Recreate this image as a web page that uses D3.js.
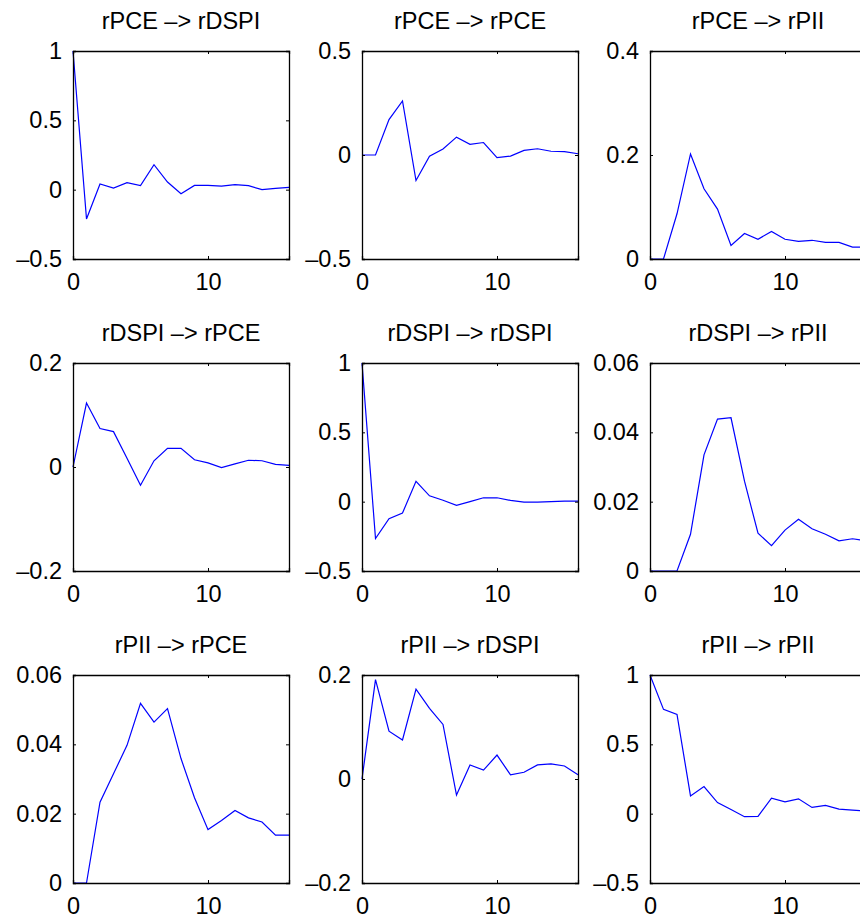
<!DOCTYPE html>
<html>
<head>
<meta charset="utf-8">
<script src="https://cdn.jsdelivr.net/npm/d3@7"></script>
<style>
  html, body { margin: 0; padding: 0; background: #fff; }
  svg { display: block; }
  text { font-family: "Liberation Sans", Arial, Helvetica, sans-serif; fill: #000; }
</style>
</head>
<body>
<svg id="chart" width="860" height="922"></svg>
<script>
// ---- Data ----
const horizons = d3.range(0, 17);
const xTicks = [0, 10];

const titles = [
  "rPCE –> rDSPI", "rPCE –> rPCE", "rPCE –> rPII",
  "rDSPI –> rPCE", "rDSPI –> rDSPI", "rDSPI –> rPII",
  "rPII –> rPCE", "rPII –> rDSPI", "rPII –> rPII"
];

const yDomains = [
  [-0.5, 1], [-0.5, 0.5], [0, 0.4],
  [-0.2, 0.2], [-0.5, 1], [0, 0.06],
  [0, 0.06], [-0.2, 0.2], [-0.5, 1]
];

const yTicks = [
  [-0.5, 0, 0.5, 1], [-0.5, 0, 0.5], [0, 0.2, 0.4],
  [-0.2, 0, 0.2], [-0.5, 0, 0.5, 1], [0, 0.02, 0.04, 0.06],
  [0, 0.02, 0.04, 0.06], [-0.2, 0, 0.2], [-0.5, 0, 0.5, 1]
];

const pceToDspi = [1.0, -0.211, 0.041, 0.012, 0.050, 0.029, 0.180, 0.055, -0.029, 0.031, 0.031, 0.026, 0.036, 0.029, 0.0, 0.010, 0.017];
const pceToPce  = [0, 0, 0.170, 0.260, -0.123, -0.006, 0.029, 0.086, 0.051, 0.060, -0.013, -0.005, 0.022, 0.030, 0.018, 0.016, 0.006];
const pceToPii  = [0, 0, 0.087, 0.202, 0.135, 0.096, 0.026, 0.049, 0.038, 0.053, 0.038, 0.034, 0.036, 0.032, 0.032, 0.023, 0.023];
const dspiToPce = [0, 0.123, 0.074, 0.068, 0.017, -0.035, 0.012, 0.036, 0.036, 0.014, 0.008, -0.001, 0.006, 0.013, 0.012, 0.005, 0.003];
const dspiToDspi= [1.0, -0.266, -0.123, -0.082, 0.147, 0.042, 0.010, -0.027, 0.0, 0.028, 0.028, 0.009, -0.003, -0.003, 0.0, 0.004, 0.004];
const dspiToPii = [0, 0, 0, 0.0106, 0.0335, 0.0438, 0.0442, 0.0259, 0.0109, 0.0073, 0.0118, 0.0149, 0.0122, 0.0106, 0.0087, 0.0093, 0.0087];
const piiToPce  = [0, 0, 0.0233, 0.0315, 0.0397, 0.0518, 0.0464, 0.0503, 0.0359, 0.0246, 0.0154, 0.0180, 0.0209, 0.0188, 0.0176, 0.0138, 0.0138];
const piiToDspi = [0, 0.191, 0.092, 0.075, 0.173, 0.136, 0.105, -0.031, 0.027, 0.017, 0.046, 0.008, 0.013, 0.027, 0.029, 0.025, 0.008];
const piiToPii  = [1.0, 0.752, 0.716, 0.128, 0.195, 0.080, 0.030, -0.022, -0.020, 0.112, 0.085, 0.107, 0.045, 0.059, 0.033, 0.026, 0.018];

const series = [pceToDspi, pceToPce, pceToPii, dspiToPce, dspiToDspi, dspiToPii, piiToPce, piiToDspi, piiToPii];

// ---- Layout ----
const colLeft = [73, 362, 650];
const rowTop = [51, 363, 675];
const pw = 216, ph = 208;
const fontSize = 23.5;
const tickLen = 3;

const svg = d3.select("#chart");
const fmt = v => (v < 0 ? "–" : "") + String(Math.abs(v));

series.forEach((vals, i) => {
  const r = Math.floor(i / 3), c = i % 3;
  const g = svg.append("g").attr("transform", `translate(${colLeft[c]},${rowTop[r]})`);
  const x = d3.scaleLinear().domain([0, 16]).range([0, pw]);
  const y = d3.scaleLinear().domain(yDomains[i]).range([ph, 0]);

  const line = d3.line().x((d, k) => x(horizons[k])).y(d => y(d));
  g.append("path").datum(vals)
    .attr("d", line)
    .attr("fill", "none")
    .attr("stroke", "#0000ff")
    .attr("stroke-width", 1.2)
    .attr("stroke-linejoin", "miter");

  const xb = d3.axisBottom(x).tickValues(xTicks).tickSize(-tickLen).tickPadding(14).tickFormat(d3.format("d"));
  const xt = d3.axisTop(x).tickValues(xTicks).tickSize(-tickLen).tickFormat("");
  const yl = d3.axisLeft(y).tickValues(yTicks[i]).tickSize(-tickLen).tickPadding(11).tickFormat(fmt);
  const yr = d3.axisRight(y).tickValues(yTicks[i]).tickSize(-tickLen).tickFormat("");

  const ax = [
    g.append("g").attr("transform", `translate(0,${ph})`).call(xb),
    g.append("g").call(xt),
    g.append("g").call(yl),
    g.append("g").attr("transform", `translate(${pw},0)`).call(yr)
  ];
  ax.forEach(a => {
    a.select(".domain").attr("stroke", "#000").attr("stroke-width", 1.3);
    a.selectAll(".tick line").attr("stroke", "#000").attr("stroke-width", 1);
    a.selectAll("text").attr("font-size", fontSize).attr("fill", "#000")
      .style("font-family", '"Liberation Sans", Arial, sans-serif');
  });

  g.append("text")
    .attr("x", pw / 2).attr("y", -22)
    .attr("text-anchor", "middle")
    .attr("font-size", fontSize)
    .text(titles[i]);
});
</script>
</body>
</html>
